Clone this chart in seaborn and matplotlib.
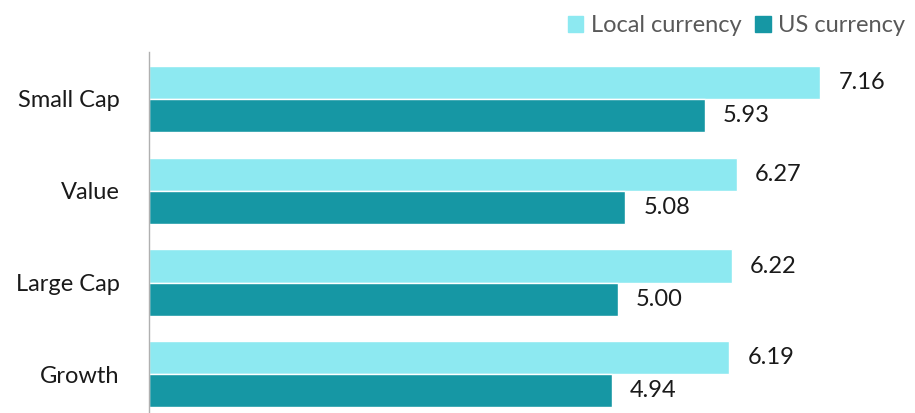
import seaborn as sns
import matplotlib.pyplot as plt
import pandas as pd
from matplotlib.patches import Patch

sns.set_style('white')
plt.rcParams['font.family'] = ['Lato', 'DejaVu Sans']

categories = ['Small Cap', 'Value', 'Large Cap', 'Growth']
local_vals = [7.16, 6.27, 6.22, 6.19]
us_vals = [5.93, 5.08, 5.00, 4.94]
series = ['Local currency', 'US currency']
colors = ['#8DE9F1', '#1697A4']

df = pd.DataFrame({
    'cat': categories * 2,
    'val': local_vals + us_vals,
    'series': [series[0]] * 4 + [series[1]] * 4,
})

fig = plt.figure(figsize=(9.15, 4.13), dpi=100)
ax = fig.add_axes([149 / 915, 0, 1 - 149 / 915, 1 - 52 / 413])
sns.barplot(data=df, x='val', y='cat', hue='series', orient='h',
            palette=colors, width=0.72, ax=ax, legend=False,
            saturation=1, errorbar=None)

for cont in ax.containers:
    ax.bar_label(cont, labels=[f'{v:.2f}' for v in cont.datavalues],
                 padding=13, fontsize=17, color='#1a1a1a')

ax.set_xlim(0, 8.17)
ax.set_ylim(3.42, -0.51)
ax.set_xlabel('')
ax.set_ylabel('')
ax.set_xticks([])
ax.tick_params(axis='y', length=0, labelsize=17, labelcolor='#1a1a1a', pad=21)
for s in ['top', 'right', 'bottom']:
    ax.spines[s].set_visible(False)
ax.spines['left'].set_color('#b0b0b0')
ax.spines['left'].set_linewidth(1)

handles = [Patch(color=c, label=l) for c, l in zip(colors, series)]
fig.legend(handles=handles, loc='upper right', bbox_to_anchor=(1.012, 1.015),
           ncol=2, frameon=False, fontsize=17, handlelength=0.65, handleheight=0.65,
           handletextpad=0.3, columnspacing=0.6, labelcolor='#595959')

fig.savefig('out.png', dpi=100)
